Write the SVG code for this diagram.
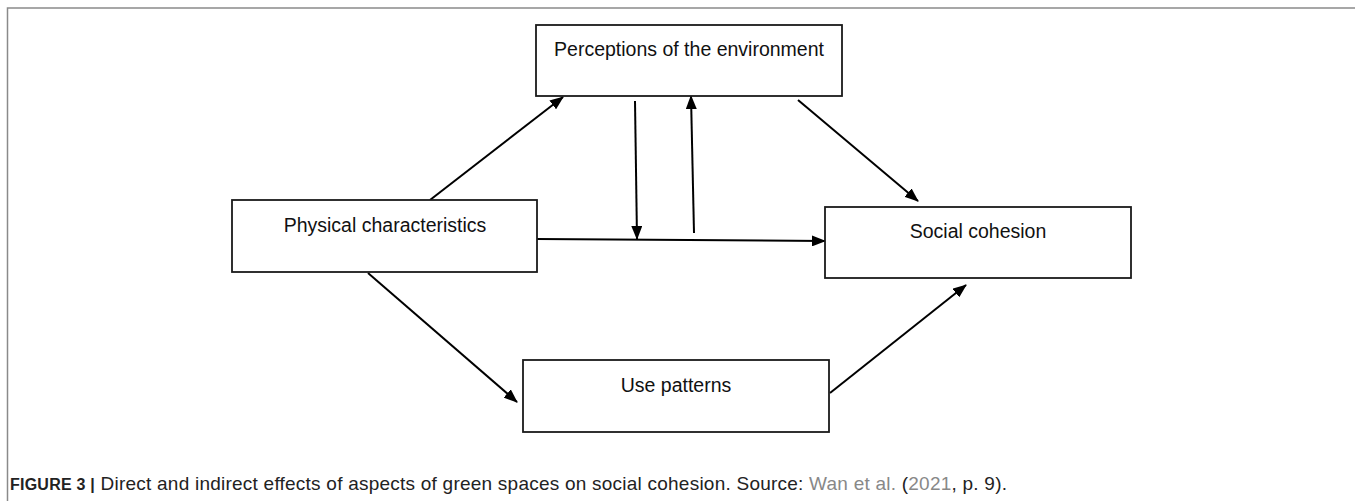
<svg xmlns="http://www.w3.org/2000/svg" width="1355" height="501" viewBox="0 0 1355 501">
<style>
.box{fill:#fff;stroke:#1a1a1a;stroke-width:1.8}
.lbl{font-family:"Liberation Sans",Arial,sans-serif;font-size:19.5px;fill:#111;text-anchor:middle}
.edge{stroke:#000;stroke-width:2;fill:none}
.cap{font-family:"Liberation Sans",Arial,sans-serif;font-size:19px;fill:#222}
.frame{stroke:#8a8a8a;stroke-width:1.5;fill:none}
</style>
<defs>
<marker id="ah" viewBox="0 0 14 11" refX="13" refY="5.5" markerWidth="14" markerHeight="11" markerUnits="userSpaceOnUse" orient="auto">
<path d="M0,0 L14,5.5 L0,11 Z" fill="#000"/>
</marker>
</defs>
<rect width="1355" height="501" fill="#fff"/>
<path class="frame" d="M1355,8 H7.5 V501"/>
<g id="connectors">
<line class="edge" x1="430" y1="200" x2="563" y2="97" marker-end="url(#ah)"/>
<line class="edge" x1="635" y1="101" x2="637" y2="239" marker-end="url(#ah)"/>
<line class="edge" x1="694" y1="233" x2="691" y2="96" marker-end="url(#ah)"/>
<line class="edge" x1="537" y1="239" x2="825" y2="241" marker-end="url(#ah)"/>
<line class="edge" x1="798" y1="100" x2="918" y2="201" marker-end="url(#ah)"/>
<line class="edge" x1="368" y1="273" x2="517" y2="402" marker-end="url(#ah)"/>
<line class="edge" x1="830" y1="393" x2="966" y2="285" marker-end="url(#ah)"/>
</g>
<g id="perceptions">
<rect class="box" x="536" y="25" width="306" height="71"/>
<text class="lbl" x="689" y="56">Perceptions of the environment</text>
</g>
<g id="physical">
<rect class="box" x="232" y="200" width="305" height="72"/>
<text class="lbl" x="385" y="232">Physical characteristics</text>
</g>
<g id="social">
<rect class="box" x="825" y="207" width="306" height="71"/>
<text class="lbl" x="978" y="238">Social cohesion</text>
</g>
<g id="use">
<rect class="box" x="523" y="360" width="306" height="72"/>
<text class="lbl" x="676" y="392">Use patterns</text>
</g>
<g id="caption">
<text class="cap" x="10" y="490" textLength="997" lengthAdjust="spacing"><tspan font-weight="bold" font-size="16">FIGURE 3 |</tspan> Direct and indirect effects of aspects of green spaces on social cohesion. Source: <tspan fill="#888">Wan et al.</tspan> (<tspan fill="#888">2021</tspan>, p. 9).</text>
</g>
</svg>
